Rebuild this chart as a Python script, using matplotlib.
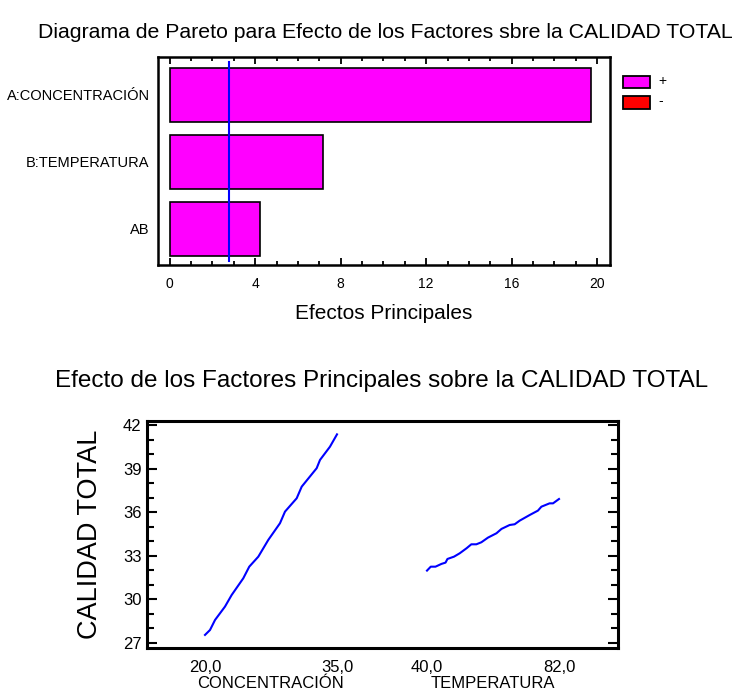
import matplotlib
matplotlib.use("Agg")
import matplotlib.pyplot as plt
from matplotlib.patches import Rectangle
from matplotlib.ticker import MultipleLocator, FixedLocator

plt.rcParams['font.family'] = ['Liberation Sans', 'DejaVu Sans']

# ---- Pareto chart data (standardized effects) ----
factors = ["AB", "B:TEMPERATURA", "A:CONCENTRACIÓN"]
effects = [4.23, 7.15, 19.69]
t_critical = 2.776

# ---- Main effects data ----
conc_x = [20.0, 20.57, 21.14, 22.27, 23.03, 24.35, 25.03, 26.06, 27.19,
          28.52, 29.09, 30.42, 30.99, 32.69, 33.07, 34.20, 35.0]
conc_y = [27.55, 27.89, 28.58, 29.50, 30.30, 31.45, 32.25, 32.94, 34.09,
          35.24, 36.04, 36.96, 37.76, 39.03, 39.60, 40.51, 41.36]
temp_x = [40.0, 41.2, 42.7, 44.6, 45.9, 46.5, 48.6, 50.4, 52.6, 54.1, 55.7,
          57.3, 59.4, 62.1, 63.7, 66.3, 67.9, 69.5, 72.7, 75.3, 76.4, 79.0,
          80.1, 82.0]
temp_y = [31.98, 32.25, 32.25, 32.44, 32.53, 32.78, 32.94, 33.17, 33.52,
          33.79, 33.79, 33.93, 34.25, 34.55, 34.85, 35.12, 35.17, 35.42,
          35.81, 36.11, 36.38, 36.61, 36.61, 36.91]
factor_names = ["CONCENTRACIÓN", "TEMPERATURA"]
factor_ranges = [(20.0, 35.0), (40.0, 82.0)]
range_labels = [("20,0", "35,0"), ("40,0", "82,0")]
y_label = "CALIDAD TOTAL"

W, H = 740, 694
fig = plt.figure(figsize=(W / 100, H / 100), dpi=100)


def fx(px):
    return px / W


def fy(py):
    return 1 - py / H


# ================= Pareto chart =================
ax1 = fig.add_axes([fx(158), fy(265), fx(610) - fx(158), fy(57) - fy(265)])
ypos = list(range(len(factors)))
ax1.barh(ypos, effects, height=0.81, color="#ff00ff", edgecolor="black",
         linewidth=1.2, zorder=2)
ax1.axvline(t_critical, ymin=0.02, ymax=0.976, color="blue", lw=1.5, zorder=3)
ax1.set_xlim(-0.55, 20.6)
ax1.set_ylim(-0.545, 2.567)
ax1.set_yticks(ypos)
ax1.set_yticklabels(factors, fontsize=10.5)
ax1.tick_params(axis="y", length=0, pad=6)
ax1.xaxis.set_major_locator(MultipleLocator(4))
ax1.xaxis.set_minor_locator(MultipleLocator(1))
ax1.tick_params(axis="x", which="both", direction="in", top=True,
                bottom=True, labelsize=10, pad=9, width=1.3)
ax1.tick_params(axis="x", which="major", length=5)
ax1.tick_params(axis="x", which="minor", length=3)
for s in ax1.spines.values():
    s.set_linewidth(1.8)
ax1.set_xlabel("Efectos Principales", fontsize=15, labelpad=9)

fig.text(fx(385), fy(32), "Diagrama de Pareto para Efecto de los Factores sbre la CALIDAD TOTAL",
         ha="center", va="center", fontsize=15.3)

# legend
fig.patches.append(Rectangle((fx(623), fy(88)), fx(27), fy(76) - fy(88),
                             transform=fig.transFigure, facecolor="#ff00ff",
                             edgecolor="black", lw=1.3))
fig.patches.append(Rectangle((fx(623), fy(109)), fx(27), fy(96) - fy(109),
                             transform=fig.transFigure, facecolor="#ff0000",
                             edgecolor="black", lw=1.3))
fig.text(fx(658), fy(81), "+", ha="left", va="center", fontsize=10)
fig.text(fx(658), fy(101), "-", ha="left", va="center", fontsize=10)

# ================= Main effects chart =================
ax2 = fig.add_axes([fx(147), fy(648), fx(618) - fx(147), fy(421) - fy(648)])
slot_starts = [0.0, 222 / 132]


def to_slot(xs, i):
    lo, hi = factor_ranges[i]
    return [slot_starts[i] + (x - lo) / (hi - lo) for x in xs]


ax2.plot(to_slot(conc_x, 0), conc_y, color="blue", lw=1.5)
ax2.plot(to_slot(temp_x, 1), temp_y, color="blue", lw=1.5)
ax2.set_xlim(-58 / 132, 413 / 132)
ax2.set_ylim(26.65, 42.28)

ax2.yaxis.set_major_locator(MultipleLocator(3))
ax2.yaxis.set_minor_locator(MultipleLocator(1))
ax2.tick_params(axis="y", which="both", direction="in", left=True,
                right=True, labelsize=12, pad=4, width=1.5)
ax2.tick_params(axis="y", which="major", length=7)
ax2.tick_params(axis="y", which="minor", length=5)

tick_pos = []
tick_lab = []
for i in range(2):
    tick_pos += [slot_starts[i], slot_starts[i] + 1]
    tick_lab += list(range_labels[i])
ax2.xaxis.set_major_locator(FixedLocator(tick_pos))
ax2.set_xticklabels(tick_lab)
ax2.tick_params(axis="x", length=0, labelsize=12, pad=9)
for i, name in enumerate(factor_names):
    fig.text(fx(205 + 132 * slot_starts[i] + 66), fy(684), name,
             ha="center", va="center", fontsize=12)
for s in ax2.spines.values():
    s.set_linewidth(2.2)
ax2.set_ylabel(y_label, fontsize=19.5, labelpad=14)

fig.text(fx(382), fy(381), "Efecto de los Factores Principales sobre la CALIDAD TOTAL",
         ha="center", va="center", fontsize=17.5)

fig.savefig("out.png", dpi=100)
